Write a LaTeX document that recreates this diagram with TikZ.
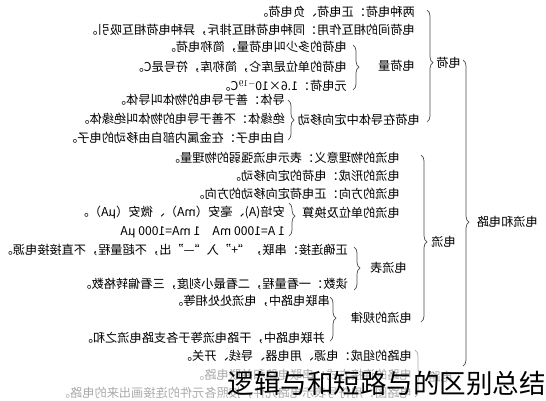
\documentclass[tikz,border=0pt]{standalone}
\usepackage{fontspec}
\setmainfont{Noto Sans CJK SC}
\usepackage{xcolor}
\usepackage{tikz}
\usetikzlibrary{decorations.pathreplacing}

\definecolor{inkgray}{RGB}{75,75,75}
\definecolor{fadegray}{RGB}{170,170,170}

\tikzset{
	txt/.style={xscale=-1, anchor=west, inner sep=0pt, font=\fontsize{12.2}{14}\selectfont, text=black},
	faded/.style={text=fadegray},
	curl/.style={decorate, decoration={brace, amplitude=6pt, aspect=#1}, draw=inkgray, line width=0.7pt},
	curl/.default=0.5,
}

\begin{document}
\begin{tikzpicture}[x=1pt, y=-1pt]
		\useasboundingbox (0,0) rectangle (546,400);
		
		\def\xA{415};
		\def\xB{400};
		\def\xC{412};
		
		% root and first level
		\node [txt] (root) at (538,222) {电流和电路};
		\node [txt] (charge) at (461,63) {电荷};
		\node [txt] (current) at (456,242) {电流};
		\node [txt, faded] (circuit) at (453,377) {电路};
		
		% charge
		\node [txt] (c1) at (\xA,12) {两种电荷：正电荷、负电荷。};
		\node [txt] (c2) at (\xA,30) {电荷间的相互作用：同种电荷相互排斥，异种电荷相互吸引。};
		\node [txt] (c3) at (\xA,66) {电荷量};
		\node [txt] (c31) at (347,47) {电荷的多少叫电荷量，简称电荷。};
		\node [txt] (c32) at (347,67) {电荷的单位是库仑，简称库，符号是C。};
		\node [txt] (c33) at (347,86) {元电荷：1.6×10$^{-19}$C。};
		\node [txt] (c4) at (420,120) {电荷在导体中定向移动};
		\node [txt] (c41) at (285,100) {导体：善于导电的物体叫导体。};
		\node [txt] (c42) at (285,119) {绝缘体：不善于导电的物体叫绝缘体。};
		\node [txt] (c43) at (285,138) {自由电子：在金属内部自由移动的电子。};
		
		% current
		\node [txt] (i1) at (\xB,158) {电流的物理意义：表示电流强弱的物理量。};
		\node [txt] (i2) at (\xB,176) {电流的形成：电荷的定向移动。};
		\node [txt] (i3) at (\xB,194) {电流的方向：正电荷定向移动的方向。};
		\node [txt] (i4) at (\xB,213) {电流的单位及换算};
		\node [txt] (i41) at (285,212) {安培(A)、毫安（mA）、微安（μA）。};
		\node [txt] (i42) at (285,232) {1 A=1000 mA\quad 1 mA=1000 μA};
		\node [txt] (i5) at (407,268) {电流表};
		\node [txt] (i51) at (348,250) {正确连接：串联，“+”入“—”出，不超量程，不直接接电源。};
		\node [txt] (i52) at (348,284) {读数：一看量程，二看最小刻度，三看偏转格数。};
		\node [txt] (i6) at (\xC,318) {电流的规律};
		\node [txt] (i61) at (330,301) {串联电路中，电流处处相等。};
		\node [txt] (i62) at (325,338) {并联电路中，干路电流等于各支路电流之和。};
		
		% circuit
		\node [txt] (k1) at (\xC,356) {电路的组成：电源、用电器、导线、开关。};
		\node [txt, faded] (k2) at (\xC,375) {电路的连接方式：串联电路和并联电路。};
		\node [txt, faded] (k3) at (\xC,393) {电路图：用符号表示电路元件，按照各元件的连接画出来的电路。};
		
		% braces
		\coordinate (rt) at (463,60);
		\coordinate (rb) at (463,366);
		\coordinate (ct) at (427,10);
		\coordinate (cb) at (427,122);
		\coordinate (it) at (421,155);
		\coordinate (ib) at (421,322);
		\coordinate (kt) at (415,350);
		\coordinate (kb) at (415,397);
		\coordinate (c3t) at (353,45);
		\coordinate (c3b) at (353,90);
		\coordinate (c4t) at (288,100);
		\coordinate (c4b) at (288,140);
		\coordinate (i4t) at (289,203);
		\coordinate (i4b) at (289,236);
		\coordinate (i5t) at (354,247);
		\coordinate (i5b) at (354,290);
		\coordinate (i6t) at (330,297);
		\coordinate (i6b) at (330,341);
		
		\draw [curl=0.53] (rt) -- (rb);
		\draw [curl=0.47] (ct) -- (cb);
		\draw [curl=0.52] (it) -- (ib);
		\draw [curl=0.53, draw=fadegray] (kt) -- (kb);
		\draw [curl=0.49] (c3t) -- (c3b);
		\draw [curl=0.5] (c4t) -- (c4b);
		\draw [curl=0.4] (i4t) -- (i4b);
		\draw [curl=0.49] (i5t) -- (i5b);
		\draw [curl=0.48] (i6t) -- (i6b);
		
		% overlay caption
		\node [anchor=east, inner sep=0pt, font=\fontsize{26.5}{30}\selectfont] (wm) at (546,383) {逻辑与和短路与的区别总结};
	\end{tikzpicture}
\end{document}
